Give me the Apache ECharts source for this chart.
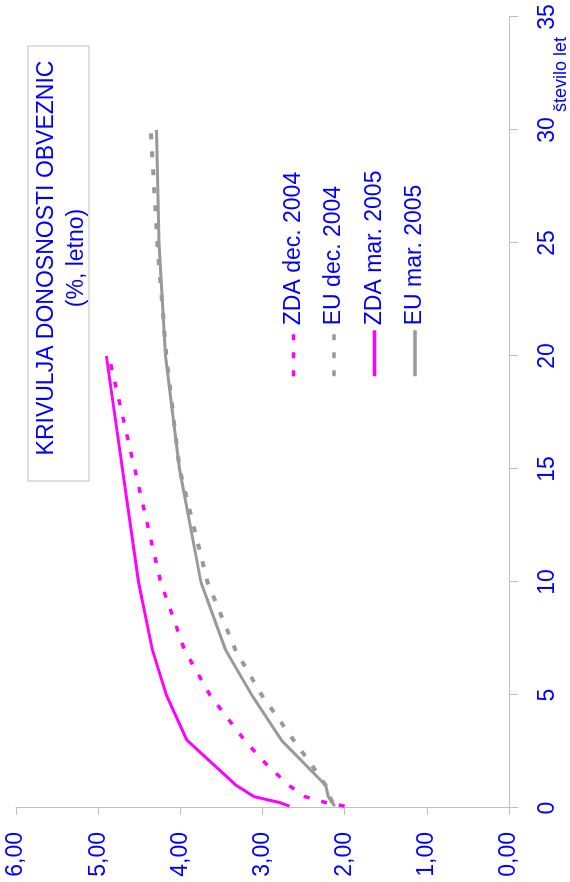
<!DOCTYPE html>
<html>
<head>
<meta charset="utf-8">
<script src="https://cdn.jsdelivr.net/npm/echarts@6/dist/echarts.min.js"></script>
<style>
html,body{margin:0;padding:0;background:#fff;overflow:hidden;width:570px;height:882px;}
#chart{position:absolute;left:0;top:0;width:882px;height:570px;transform-origin:0 0;transform:translateY(882px) rotate(-90deg);}
</style>
</head>
<body>
<div id="chart"></div>
<script>
// Years to maturity (število let) and yields (% letno)
var usDec2004Years = [0.083, 0.25, 0.5, 1, 2, 3, 5, 7, 10, 20];
var usDec2004 = [2.00, 2.24, 2.48, 2.68, 2.97, 3.22, 3.64, 3.95, 4.24, 4.87];

var euDec2004Years = [0.25, 0.5, 1, 2, 3, 5, 7, 10, 15, 20, 25, 30];
var euDec2004 = [2.15, 2.18, 2.23, 2.42, 2.62, 3.01, 3.33, 3.67, 4.01, 4.17, 4.28, 4.36];

var usMar2005Years = [0.083, 0.25, 0.5, 1, 3, 5, 7, 10, 20];
var usMar2005 = [2.67, 2.80, 3.10, 3.32, 3.92, 4.17, 4.34, 4.51, 4.90];

var euMar2005Years = [0.083, 0.5, 1, 3, 5, 7, 10, 15, 20, 25, 30];
var euMar2005 = [2.12, 2.20, 2.23, 2.77, 3.13, 3.45, 3.75, 4.01, 4.18, 4.26, 4.29];

var seriesNames = ['ZDA dec. 2004', 'EU dec. 2004', 'ZDA mar. 2005', 'EU mar. 2005'];
var yieldTicks = ['0,00', '1,00', '2,00', '3,00', '4,00', '5,00', '6,00'];
var titleLines = ['KRIVULJA DONOSNOSTI OBVEZNIC', '(%, letno)'];
var xAxisName = 'število let';

function pairs(xs, ys) { return xs.map(function (x, i) { return [x, ys[i]]; }); }

var FONT = '"Liberation Sans", Arial, sans-serif';
var BLUE = '#0000ff';
var MAG = '#ff00ff';
var GRAY = '#999999';
var AXIS = '#c0c0c0';

var chart = echarts.init(document.getElementById('chart'), null, {renderer: 'canvas'});
chart.setOption({
  animation: false,
  backgroundColor: '#ffffff',
  grid: {left: 74, right: 17, top: 16, bottom: 61},
  xAxis: {
    type: 'value', min: 0, max: 35, interval: 5,
    axisLine: {show: true, lineStyle: {color: AXIS, width: 1}},
    axisTick: {show: true, length: 9, lineStyle: {color: AXIS}},
    axisLabel: {color: BLUE, fontSize: 23, fontFamily: FONT, margin: 27},
    splitLine: {show: false}
  },
  yAxis: {
    type: 'value', min: 0, max: 6, interval: 1,
    axisLine: {show: true, lineStyle: {color: AXIS, width: 1}},
    axisTick: {show: true, length: 7, lineStyle: {color: AXIS}},
    axisLabel: {color: BLUE, fontSize: 23, fontFamily: FONT, margin: 24,
      formatter: function (v) { return yieldTicks[Math.round(v)]; }},
    splitLine: {show: false}
  },
  legend: {
    orient: 'vertical', left: 504, top: 282, itemWidth: 46, itemHeight: 14, itemGap: 17.5,
    padding: 0, itemStyle: {opacity: 0},
    lineStyle: {width: 3.5},
    textStyle: {color: BLUE, fontSize: 23, fontFamily: FONT},
    data: seriesNames
  },
  graphic: [
    {type: 'rect', shape: {x: 401, y: 28, width: 435, height: 61},
      style: {fill: 'none', stroke: AXIS, lineWidth: 1}},
    {type: 'text', x: 624, y: 47, style: {text: titleLines[0], fill: BLUE, font: '23px ' + FONT, align: 'center', verticalAlign: 'middle'}},
    {type: 'text', x: 624, y: 77, style: {text: titleLines[1], fill: BLUE, font: '23px ' + FONT, align: 'center', verticalAlign: 'middle'}},
    {type: 'text', x: 770, y: 561, style: {text: xAxisName, fill: BLUE, font: '18px ' + FONT, align: 'left', verticalAlign: 'middle'}}
  ],
  series: [
    {name: seriesNames[0], type: 'line', symbol: 'none', data: pairs(usDec2004Years, usDec2004),
      lineStyle: {color: MAG, width: 3.5, type: [6, 12], cap: 'butt'}, itemStyle: {color: MAG}},
    {name: seriesNames[1], type: 'line', symbol: 'none', data: pairs(euDec2004Years, euDec2004),
      lineStyle: {color: GRAY, width: 4, type: [6, 12], cap: 'butt'}, itemStyle: {color: GRAY}},
    {name: seriesNames[2], type: 'line', symbol: 'none', data: pairs(usMar2005Years, usMar2005),
      lineStyle: {color: MAG, width: 3, type: 'solid'}, itemStyle: {color: MAG}},
    {name: seriesNames[3], type: 'line', symbol: 'none', data: pairs(euMar2005Years, euMar2005),
      lineStyle: {color: GRAY, width: 3, type: 'solid'}, itemStyle: {color: GRAY}}
  ]
});
</script>
</body>
</html>
